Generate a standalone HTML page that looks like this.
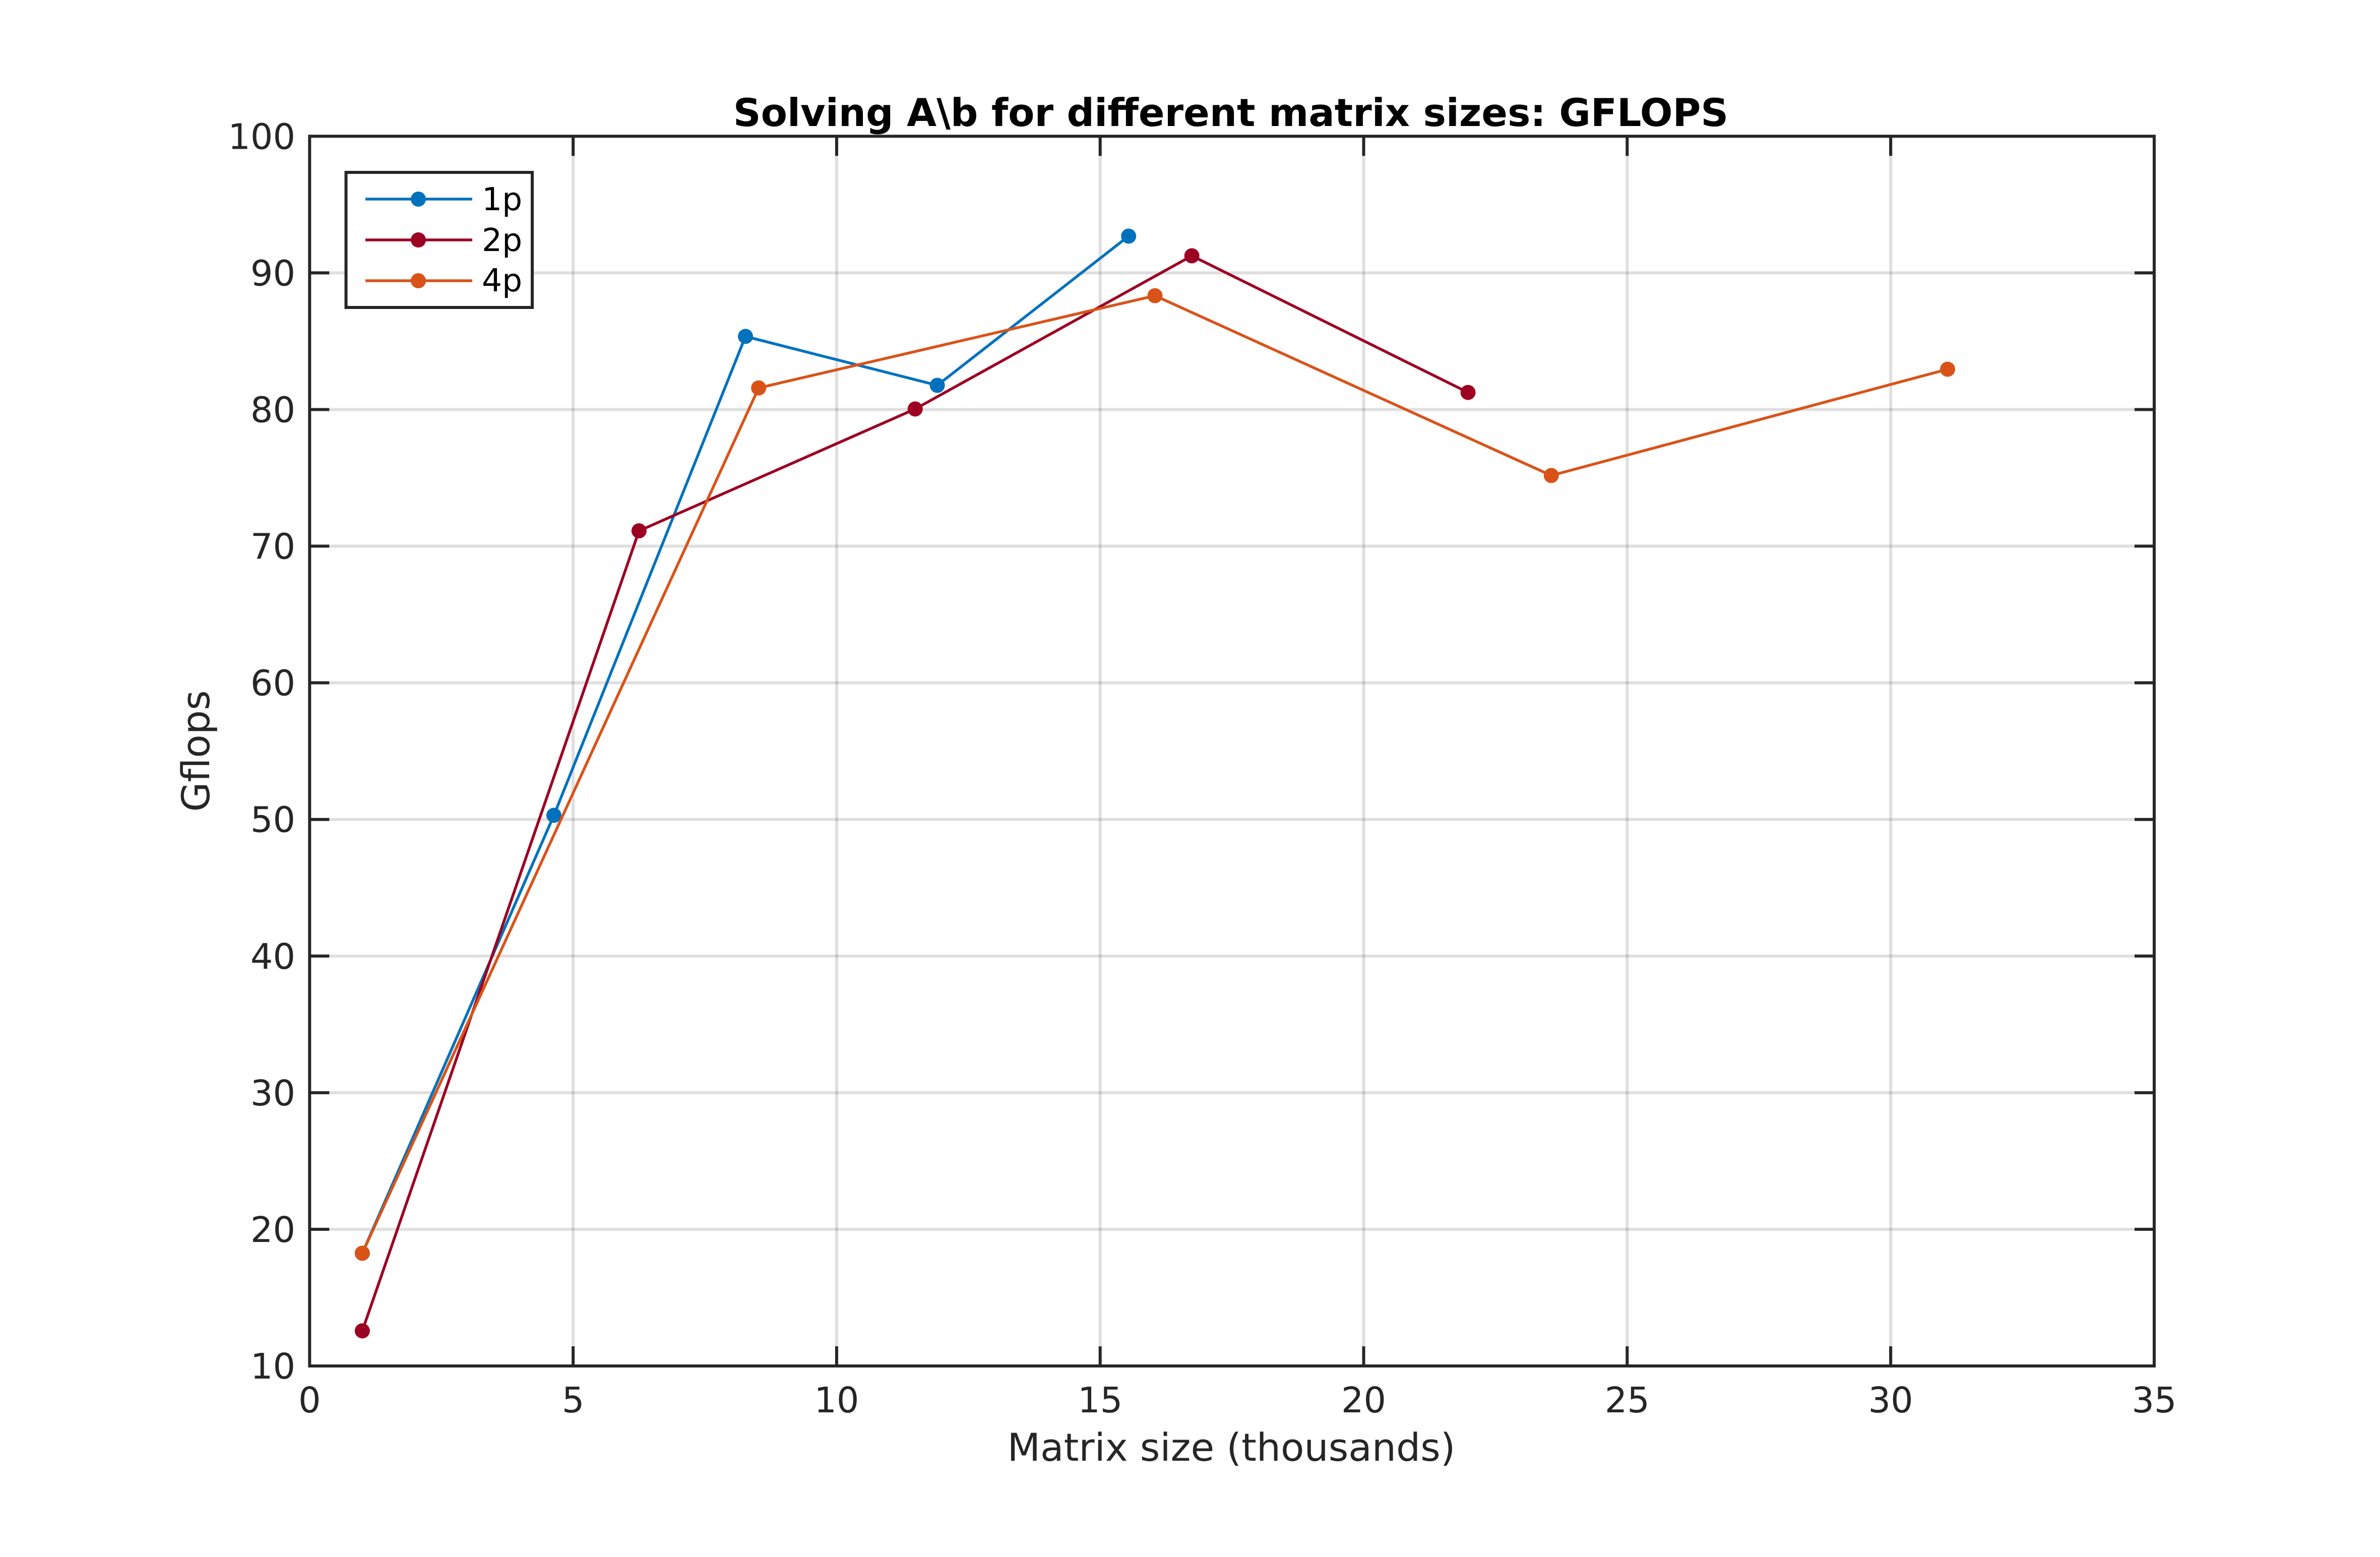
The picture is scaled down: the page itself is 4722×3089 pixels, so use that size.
<!DOCTYPE html>
<html lang="en">
<head>
<meta charset="utf-8">
<title>Solving A\b for different matrix sizes: GFLOPS</title>
<style>
html,body{margin:0;padding:0;background:#fff;width:4722px;height:3089px;overflow:hidden}
svg{display:block;font-family:"DejaVu Sans","Liberation Sans",sans-serif;text-rendering:geometricPrecision}
</style>
</head>
<body>
<svg id="chart" xmlns="http://www.w3.org/2000/svg" width="4722" height="3089" viewBox="0 0 4722 3089">
<rect x="0" y="0" width="4722" height="3089" fill="#ffffff"/>
<g id="grid"></g>
<g id="ticks"></g>
<g id="series"></g>
<rect x="614.3" y="270.3" width="3659.7" height="2439.7" fill="none" stroke="#262626" stroke-width="6"/>
<g id="tick-labels"></g>
<text x="2442" y="250" text-anchor="middle" font-size="76.2" font-weight="700" fill="#000000">Solving A\b for different matrix sizes: GFLOPS</text>
<text x="2443" y="2898" text-anchor="middle" font-size="76" fill="#262626">Matrix size (thousands)</text>
<text transform="translate(415 1490) rotate(-90)" x="0" y="0" text-anchor="middle" font-size="76" fill="#262626">Gflops</text>
<g>
<rect x="686.5" y="342" width="369.5" height="268" fill="#ffffff" stroke="#262626" stroke-width="6"/>
<g>
<line x1="725" x2="937" y1="395" y2="395" stroke="#0072bd" stroke-width="5.5"/>
<circle cx="830" cy="395" r="15" fill="#0072bd"/>
<text x="956" y="417" font-size="63" fill="#000000">1p</text>
</g>
<g>
<line x1="725" x2="937" y1="476" y2="476" stroke="#9c0022" stroke-width="5.5"/>
<circle cx="830" cy="476" r="15" fill="#9c0022"/>
<text x="956" y="498" font-size="63" fill="#000000">2p</text>
</g>
<g>
<line x1="725" x2="937" y1="557" y2="557" stroke="#d95319" stroke-width="5.5"/>
<circle cx="830" cy="557" r="15" fill="#d95319"/>
<text x="956" y="578" font-size="63" fill="#000000">4p</text>
</g>
</g>
</svg>
<script>
var xTicks = [0, 5, 10, 15, 20, 25, 30, 35];
var yTicks = [10, 20, 30, 40, 50, 60, 70, 80, 90, 100];
var x1p = [1, 4.635, 8.27, 11.91, 15.54];
var y1p = [18.25, 50.3, 85.35, 81.77, 92.69];
var x2p = [1, 6.25, 11.49, 16.74, 21.98];
var y2p = [12.57, 71.12, 80.04, 91.25, 81.25];
var x4p = [1, 8.52, 16.04, 23.56, 31.08];
var y4p = [18.25, 81.58, 88.33, 75.17, 82.95];

var NS = 'http://www.w3.org/2000/svg';
var plotLeft = 614.3, plotRight = 4274, plotTop = 270.3, plotBottom = 2710;
var xMin = 0, xMax = 35, yMin = 10, yMax = 100;
var tickLen = 39;

function xScale(v) { return plotLeft + (v - xMin) / (xMax - xMin) * (plotRight - plotLeft); }
function yScale(v) { return plotBottom - (v - yMin) / (yMax - yMin) * (plotBottom - plotTop); }
function make(tag, attrs) {
  var el = document.createElementNS(NS, tag);
  for (var k in attrs) el.setAttribute(k, attrs[k]);
  return el;
}
var gridG = document.getElementById('grid');
var ticksG = document.getElementById('ticks');
var labelsG = document.getElementById('tick-labels');
var seriesG = document.getElementById('series');
var el;

xTicks.forEach(function (t) {
  var x = xScale(t);
  if (t !== xMin && t !== xMax) {
    el = make('line', {x1: x, x2: x, y1: plotTop, y2: plotBottom, stroke: '#262626', 'stroke-opacity': 0.15, 'stroke-width': 6});
    
    
    gridG.appendChild(el);
    el = make('line', {x1: x, x2: x, y1: plotBottom, y2: plotBottom - tickLen, stroke: '#262626', 'stroke-width': 6});
    
    
    ticksG.appendChild(el);
    el = make('line', {x1: x, x2: x, y1: plotTop, y2: plotTop + tickLen, stroke: '#262626', 'stroke-width': 6});
    
    
    ticksG.appendChild(el);
  }
  el = make('text', {x: x, y: 2802, 'text-anchor': 'middle', 'font-size': 70, fill: '#262626'});
  
  
  el.textContent = String(t);
  labelsG.appendChild(el);
});

yTicks.forEach(function (t) {
  var y = yScale(t);
  if (t !== yMin && t !== yMax) {
    el = make('line', {x1: plotLeft, x2: plotRight, y1: y, y2: y, stroke: '#262626', 'stroke-opacity': 0.15, 'stroke-width': 6});
    
    
    gridG.appendChild(el);
    el = make('line', {x1: plotLeft, x2: plotLeft + tickLen, y1: y, y2: y, stroke: '#262626', 'stroke-width': 6});
    
    
    ticksG.appendChild(el);
    el = make('line', {x1: plotRight, x2: plotRight - tickLen, y1: y, y2: y, stroke: '#262626', 'stroke-width': 6});
    
    
    ticksG.appendChild(el);
  }
  el = make('text', {x: 586, y: y + 25, 'text-anchor': 'end', 'font-size': 70, fill: '#262626'});
  
  
  el.textContent = String(t);
  labelsG.appendChild(el);
});

function drawSeries(xs, ys, color) {
  var pts = xs.map(function (v, i) { return xScale(v).toFixed(2) + ',' + yScale(ys[i]).toFixed(2); }).join(' ');
  var line = make('polyline', {points: pts, fill: 'none', stroke: color, 'stroke-width': 5.5, 'stroke-linejoin': 'round'});
  
  
  seriesG.appendChild(line);
  xs.forEach(function (v, i) {
    var dot = make('circle', {cx: xScale(v), cy: yScale(ys[i]), r: 15, fill: color});
    
    
    seriesG.appendChild(dot);
  });
}
drawSeries(x1p, y1p, '#0072bd');
drawSeries(x2p, y2p, '#9c0022');
drawSeries(x4p, y4p, '#d95319');
</script>
</body>
</html>
